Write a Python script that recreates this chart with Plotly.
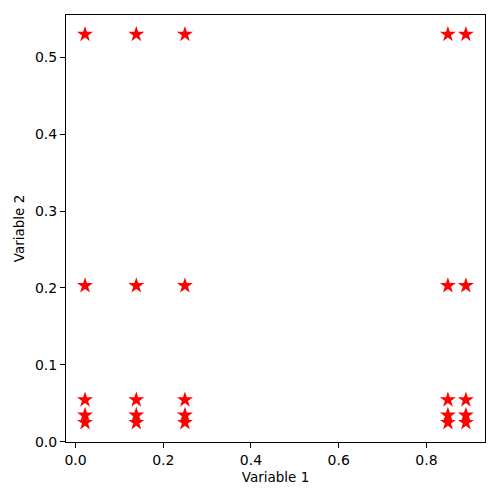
import plotly.graph_objects as go

# grid of values
var1_levels = [0.0216, 0.1385, 0.2494, 0.849, 0.890]
var2_levels = [0.0251, 0.0347, 0.0546, 0.203, 0.5295]

x = [a for a in var1_levels for b in var2_levels]
y = [b for a in var1_levels for b in var2_levels]

fig = go.Figure(go.Scatter(
    x=x,
    y=y,
    mode="markers",
    marker={"symbol": "star", "color": "red", "size": 12, "line": {"width": 0}},
    showlegend=False,
))

axis_common = dict(
    showline=True,
    linecolor="black",
    linewidth=1,
    mirror=True,
    ticks="outside",
    ticklen=5,
    tickcolor="black",
    showgrid=False,
    zeroline=False,
    automargin=False,
    tickfont={"size": 14, "color": "black"},
)

fig.update_layout(
    width=500,
    height=500,
    margin={"l": 66, "r": 15, "t": 15, "b": 58},
    plot_bgcolor="white",
    paper_bgcolor="white",
    font={"family": "DejaVu Sans", "size": 13, "color": "black"},
    xaxis=dict(axis_common, range=[-0.0218, 0.9336], tickvals=[0, 0.2, 0.4, 0.6, 0.8],
               tickformat=".1f",
               title={"text": "Variable 1", "standoff": 5, "font": {"size": 13.5}}),
    yaxis=dict(axis_common, range=[-0.0001, 0.5547], tickvals=[0, 0.1, 0.2, 0.3, 0.4, 0.5],
               tickformat=".1f",
               title={"text": "Variable 2", "standoff": 7, "font": {"size": 13.5}}),
)

fig.write_html("out.html", config={"displayModeBar": False},
               post_script="document.body.style.margin='0px';")
